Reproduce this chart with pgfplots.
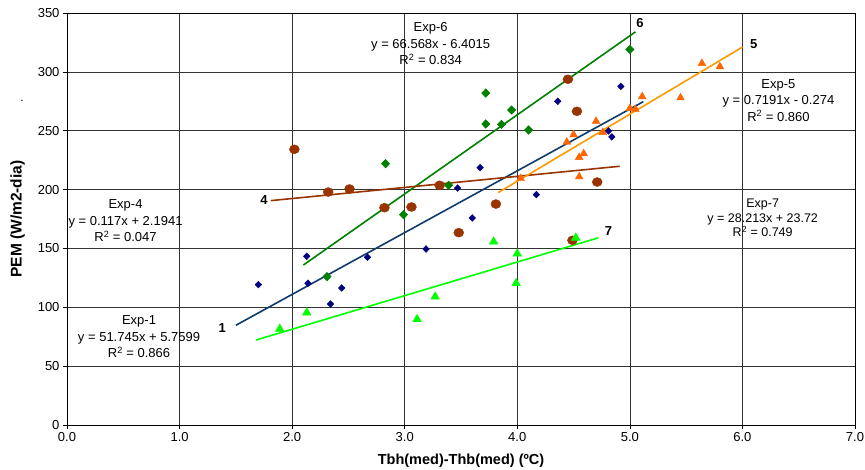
\documentclass[border=0pt]{standalone}
\usepackage{fontspec}
\setmainfont{Liberation Sans}
\usepackage{pgfplots}
\pgfplotsset{compat=1.18}

\definecolor{navyd}{HTML}{000080}
\definecolor{lineone}{HTML}{0F3A6B}
\definecolor{grn}{HTML}{008000}
\definecolor{brn}{HTML}{993300}
\definecolor{orgm}{HTML}{FF6600}
\definecolor{orgl}{HTML}{FF9900}
\definecolor{lgrn}{HTML}{00FF00}

\begin{document}
\begin{tikzpicture}
\useasboundingbox (-67pt,-45pt) rectangle (798pt,425pt);
\begin{axis}[
  scale only axis,
  width=788pt, height=412pt,
  xmin=0, xmax=7, ymin=0, ymax=350,
  xtick={0,1,...,7}, ytick={0,50,...,350},
  grid=major,
  major grid style={black!80, line width=0.7pt},
  axis line style={black, line width=0.9pt},
  tick align=outside,
  major tick length=4pt,
  tick style={black, line width=0.7pt},
  xtick pos=bottom, ytick pos=left,
  /pgf/number format/assume math mode=true,
  xticklabel style={/pgf/number format/.cd, fixed, fixed zerofill, precision=1},
  ticklabel style={font=\fontsize{13}{15}\selectfont},
  xlabel={\textbf{Tbh(med)-Thb(med) (ºC)}},
  ylabel={\textbf{PEM (W/m2-dia)}},
  xlabel style={font=\fontsize{14.5}{16}\selectfont, yshift=-5pt},
  ylabel style={font=\fontsize{15.5}{17}\selectfont, yshift=6pt},
  clip=false,
]
% Exp-1
\addplot[only marks, mark=diamond*, mark size=3.4pt, mark options={xscale=1.3}, color=navyd] coordinates {
 (1.70,119.2) (2.13,143.3) (2.14,120.4) (2.34,102.8) (2.44,116.4) (2.67,142.5)
 (3.19,149.5) (3.47,201.3) (3.60,175.9) (3.67,218.6) (4.17,195.7) (4.36,275.0)
 (4.81,249.8) (4.84,244.7) (4.92,287.7)};
% Exp-4
\addplot[only marks, mark=*, mark size=5pt, mark options={yscale=0.9}, color=brn] coordinates {
 (2.02,234.2) (2.32,197.9) (2.51,200.5) (2.82,184.6) (3.06,185.2) (3.31,203.6)
 (3.48,163.4) (3.81,187.7) (4.45,293.7) (4.53,266.5) (4.71,206.4) (4.49,156.9)};
% Exp-6
\addplot[only marks, mark=diamond*, mark size=4.3pt, mark options={xscale=1.3}, color=grn] coordinates {
 (2.31,126.0) (2.83,222.0) (2.99,178.7) (3.39,203.6) (3.72,282.0) (3.72,255.7)
 (3.86,255.4) (3.95,267.6) (4.10,250.6) (5.00,319.0)};
% Exp-5
\addplot[only marks, mark=triangle*, mark size=4.5pt, color=orgm] coordinates {
 (4.03,209.6) (4.44,240.4) (4.50,246.6) (4.55,210.9) (4.55,227.4) (4.59,230.5)
 (4.70,258.0) (4.76,248.6) (5.00,269.0) (5.05,268.2) (5.11,279.0) (5.45,278.0)
 (5.64,307.2) (5.80,304.4)};
% Exp-7
\addplot[only marks, mark=triangle*, mark size=5pt, color=lgrn] coordinates {
 (1.89,81.6) (2.13,95.4) (3.11,89.8) (3.27,109.0) (3.79,155.7) (3.99,120.4)
 (4.00,145.5) (4.52,159.0)};
% trend lines
\addplot[no marks, lineone, line width=1.6pt] coordinates {(1.50,84.7) (5.12,274.7)};
\addplot[no marks, grn, line width=1.6pt] coordinates {(2.10,135.9) (5.05,334.0)};
\addplot[no marks, brn, line width=1.6pt] coordinates {(1.81,190.6) (4.91,219.8)};
\addplot[no marks, orgl, line width=1.6pt] coordinates {(3.83,197.4) (6.00,321.0)};
\addplot[no marks, lgrn, line width=1.6pt] coordinates {(1.68,72.2) (4.72,159.0)};
% series numbers
\node[font=\fontsize{13}{15}\selectfont\bfseries] at (axis cs:5.09,341.5) {6};
\node[font=\fontsize{13}{15}\selectfont\bfseries] at (axis cs:6.10,323.7) {5};
\node[font=\fontsize{13}{15}\selectfont\bfseries] at (axis cs:1.75,191.1) {4};
\node[font=\fontsize{13}{15}\selectfont\bfseries] at (axis cs:1.38,82.4) {1};
\node[font=\fontsize{13}{15}\selectfont\bfseries] at (axis cs:4.81,164.8) {7};
% equations
\node[align=center, font=\fontsize{13}{16.5}\selectfont] at (axis cs:3.23,323.7)
  {Exp-6\\y = 66.568x - 6.4015\\R\textsuperscript{2} = 0.834};
\node[align=center, font=\fontsize{13}{16.5}\selectfont] at (axis cs:6.32,276)
  {Exp-5\\y = 0.7191x - 0.274\\R\textsuperscript{2} = 0.860};
\node[align=center, font=\fontsize{13}{16.5}\selectfont] at (axis cs:0.52,173.3)
  {Exp-4\\y = 0.117x + 2.1941\\R\textsuperscript{2} = 0.047};
\node[align=center, font=\fontsize{13}{16.5}\selectfont] at (axis cs:0.64,74.8)
  {Exp-1\\y = 51.745x + 5.7599\\R\textsuperscript{2} = 0.866};
\node[align=center, font=\fontsize{12.5}{14.5}\selectfont] at (axis cs:6.18,175.9)
  {Exp-7\\y = 28.213x + 23.72\\R\textsuperscript{2} = 0.749};
\node[font=\fontsize{12}{14}\selectfont] at (axis cs:-0.40,275) {.};
\end{axis}
\end{tikzpicture}
\end{document}
